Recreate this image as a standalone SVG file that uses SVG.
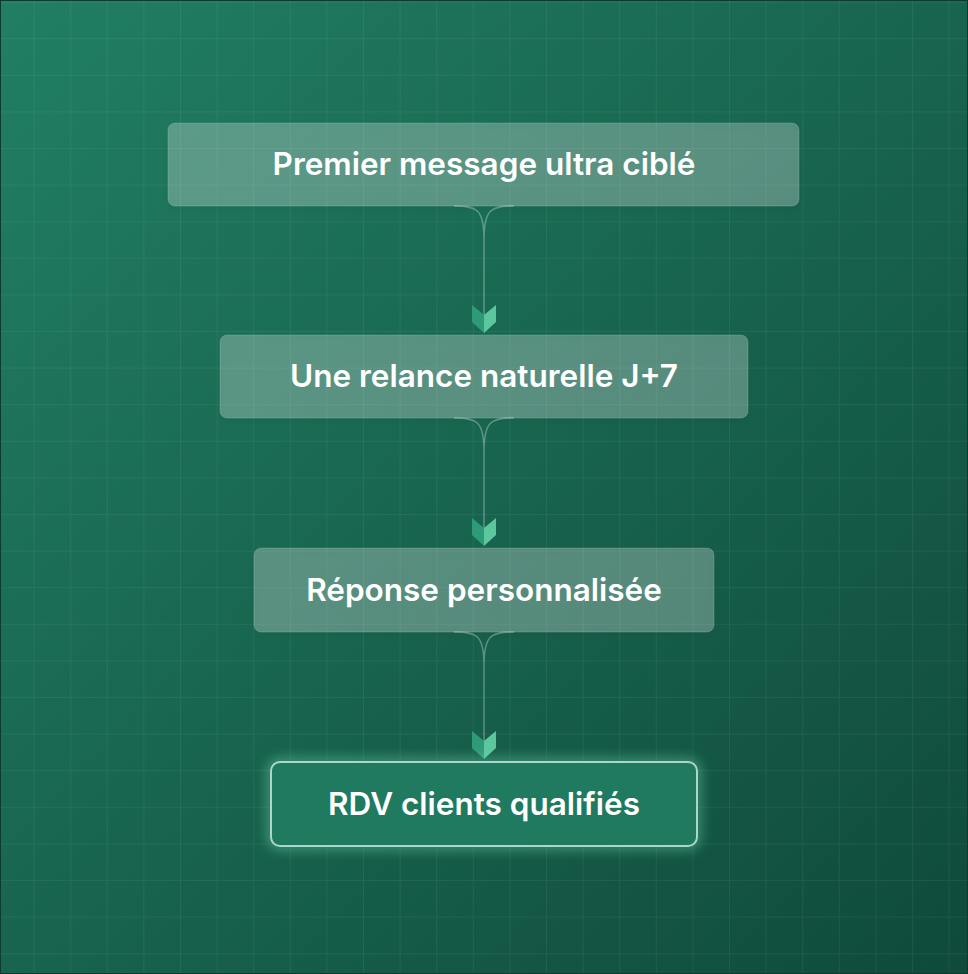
<svg xmlns="http://www.w3.org/2000/svg" width="968" height="974" viewBox="0 0 968 974">
<defs>
<linearGradient id="bg" x1="0" y1="0" x2="1" y2="1"><stop offset="0" stop-color="#217f63"/><stop offset="1" stop-color="#0f4a3a"/></linearGradient>
<pattern id="grid" width="36.6" height="36.6" patternUnits="userSpaceOnUse" x="-3" y="1.6"><path d="M0 0H36.6M0 0V36.6" fill="none" stroke="#ffffff" stroke-opacity="0.11" stroke-width="1"/></pattern>
<linearGradient id="chev" x1="0" y1="0" x2="1" y2="0"><stop offset="0" stop-color="#2f9a78"/><stop offset="0.5" stop-color="#2f9a78"/><stop offset="0.5" stop-color="#5cc69f"/><stop offset="1" stop-color="#5cc69f"/></linearGradient>
<filter id="glow" x="-20%" y="-40%" width="140%" height="180%"><feGaussianBlur stdDeviation="6"/></filter>
<filter id="sh" x="-10%" y="-20%" width="120%" height="150%"><feDropShadow dx="0" dy="3" stdDeviation="4" flood-color="#000" flood-opacity="0.18"/></filter>
<style>
.box{fill:#ffffff;fill-opacity:0.26;stroke:#ffffff;stroke-opacity:0.15;stroke-width:1}
.t{font-family:Inter,"Liberation Sans",sans-serif;font-weight:600;font-size:31.5px;fill:#ffffff;text-anchor:middle}
.ln{fill:none;stroke:#ffffff;stroke-opacity:0.3;stroke-width:1.5}
</style>
</defs>
<rect width="968" height="974" fill="#0c3b2f"/>
<rect x="1" y="1" width="966" height="972" fill="url(#bg)"/>
<rect x="1" y="1" width="966" height="972" fill="url(#grid)"/>
<g id="connectors">
<path class="ln" d="M454 206C478 206 484 210 484 240V318M514 206C490 206 484 210 484 240"/>
<path class="ln" d="M454 418C478 418 484 422 484 452V530M514 418C490 418 484 422 484 452"/>
<path class="ln" d="M454 632C478 632 484 636 484 666V744M514 632C490 632 484 636 484 666"/>
<path d="M472 305L484 315L496 305V322L484 333L472 322Z" fill="url(#chev)"/>
<path d="M472 518L484 528L496 518V535L484 546L472 535Z" fill="url(#chev)"/>
<path d="M472 731L484 741L496 731V748L484 759L472 748Z" fill="url(#chev)"/>
</g>
<g id="n1"><rect class="box" x="168" y="123" width="631" height="83" rx="7" filter="url(#sh)"/><text class="t" x="484" y="175">Premier message ultra ciblé</text></g>
<g id="n2"><rect class="box" x="220" y="335" width="528" height="83" rx="7" filter="url(#sh)"/><text class="t" x="484" y="387">Une relance naturelle J+7</text></g>
<g id="n3"><rect class="box" x="254" y="548" width="460" height="84" rx="7" filter="url(#sh)"/><text class="t" x="484" y="601">Réponse personnalisée</text></g>
<g id="n4"><rect x="271" y="762" width="426" height="84" rx="9" fill="none" stroke="#7fe6c0" stroke-opacity="0.6" stroke-width="6" filter="url(#glow)"/><rect x="271" y="762" width="426" height="84" rx="9" fill="#1f7a5f" stroke="#d8f5ea" stroke-opacity="0.75" stroke-width="2"/><text class="t" x="484" y="815">RDV clients qualifiés</text></g>
</svg>
